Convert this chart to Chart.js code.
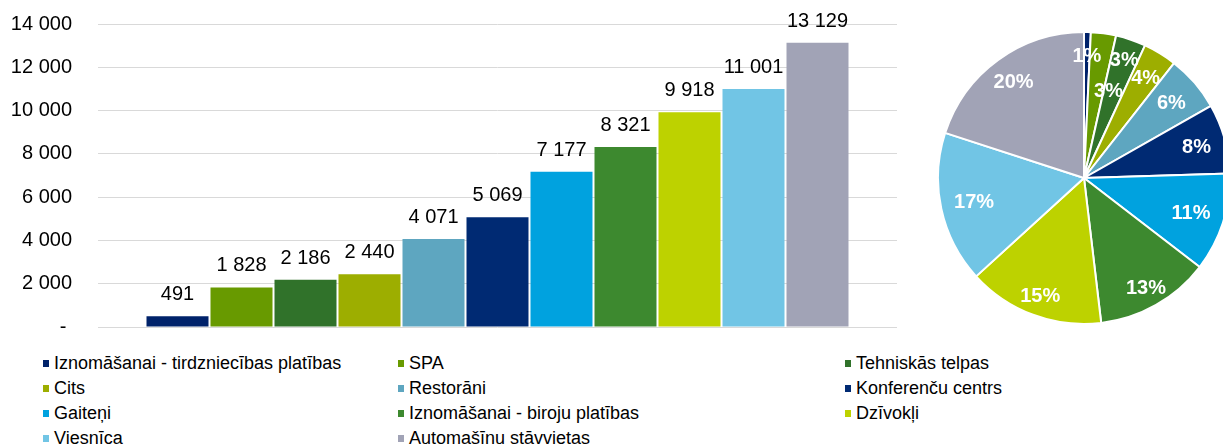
<!DOCTYPE html>
<html>
<head>
<meta charset="utf-8">
<script src="https://cdn.jsdelivr.net/npm/chart.js@4/dist/chart.umd.min.js"></script>
<style>
  html, body { margin: 0; padding: 0; background: #fff; width: 1223px; height: 447px; overflow: hidden; position: relative; font-family: "Liberation Sans", Arial, sans-serif; }
  #bar { position: absolute; left: 0; top: 0; }
  #pie { position: absolute; left: 934px; top: 28px; }
  #legend { position: absolute; left: 0; top: 351px; width: 1223px; display: grid; grid-template-columns: 355px 447px 378px; padding-left: 43px; box-sizing: border-box; }
  .item { display: flex; align-items: center; height: 25px; font-size: 18px; color: #000; white-space: nowrap; }
  .sw { width: 6px; height: 7px; margin-right: 5px; flex: none; }
</style>
</head>
<body>
<canvas id="bar" width="905" height="340"></canvas>
<canvas id="pie" width="300" height="300"></canvas>
<div id="legend"></div>
<script>
const categories = [
  "Iznomāšanai - tirdzniecības platības",
  "SPA",
  "Tehniskās telpas",
  "Cits",
  "Restorāni",
  "Konferenču centrs",
  "Gaiteņi",
  "Iznomāšanai - biroju platības",
  "Dzīvokļi",
  "Viesnīca",
  "Automašīnu stāvvietas"
];
const areaValues = [491, 1828, 2186, 2440, 4071, 5069, 7177, 8321, 9918, 11001, 13129];
const yTicks = [0, 2000, 4000, 6000, 8000, 10000, 12000, 14000];
const colors = ["#00226A", "#689A00", "#30722A", "#9DAE00", "#5EA6C0", "#002A73", "#00A2DF", "#3D892F", "#BDD200", "#71C5E5", "#A1A3B6"];

const FONT = "'Liberation Sans', Arial, sans-serif";
const fmt = v => String(Math.round(v)).replace(/\B(?=(\d{3})+(?!\d))/g, " ");

const barLabels = {
  id: "barLabels",
  afterDatasetsDraw(chart) {
    const ctx = chart.ctx;
    ctx.save();
    ctx.font = "20px " + FONT;
    ctx.fillStyle = "#000";
    ctx.textAlign = "center";
    ctx.textBaseline = "alphabetic";
    chart.data.datasets.forEach((ds, i) => {
      const meta = chart.getDatasetMeta(i);
      meta.data.forEach((el, j) => {
        ctx.fillText(fmt(ds.data[j]), el.x, el.y - 16);
      });
    });
    ctx.restore();
  }
};

new Chart(document.getElementById("bar"), {
  type: "bar",
  data: {
    labels: [""],
    datasets: categories.map((c, i) => ({
      label: c,
      data: [areaValues[i]],
      backgroundColor: colors[i],
      borderWidth: 0,
      categoryPercentage: 0.8811,
      barPercentage: 0.96875
    }))
  },
  options: {
    responsive: false,
    animation: false,
    layout: { padding: { top: 24, bottom: 13, left: 0, right: 8 } },
    plugins: { legend: { display: false }, tooltip: { enabled: false } },
    scales: {
      x: { display: false },
      y: {
        min: yTicks[0],
        max: yTicks[yTicks.length - 1],
        afterBuildTicks: s => { s.ticks = yTicks.map(v => ({ value: v })); },
        afterFit: s => { s.width = 98; s.paddingTop = 0; s.paddingBottom = 0; },
        border: { display: false },
        grid: { color: "#D9D9D9", lineWidth: 1, drawTicks: false },
        ticks: {
          padding: 26,
          color: "#000",
          font: { size: 20, family: FONT },
          callback: v => v === 0 ? "- " : fmt(v)
        }
      }
    }
  },
  plugins: [barLabels]
});

const total = areaValues.reduce((a, b) => a + b, 0);
const labelRadius = [0.84, 0.62, 0.86, 0.81, 0.79, 0.80, 0.77, 0.86, 0.86, 0.77, 0.82];
const labelAngleShift = [0, 8, 0, 0, 0, 0, 0, 0, 0, 0, 0];

const pieLabels = {
  id: "pieLabels",
  afterDatasetsDraw(chart) {
    const ctx = chart.ctx;
    const meta = chart.getDatasetMeta(0);
    ctx.save();
    ctx.font = "bold 20px " + FONT;
    ctx.fillStyle = "#fff";
    ctx.textAlign = "center";
    ctx.textBaseline = "middle";
    meta.data.forEach((arc, i) => {
      const p = arc.getProps(["x", "y", "startAngle", "endAngle", "outerRadius"], true);
      const mid = (p.startAngle + p.endAngle) / 2 + labelAngleShift[i] * Math.PI / 180;
      const r = p.outerRadius * labelRadius[i];
      const pct = Math.round(areaValues[i] / total * 100) + "%";
      ctx.fillText(pct, p.x + Math.cos(mid) * r, p.y + Math.sin(mid) * r + 1);
    });
    ctx.restore();
  }
};

new Chart(document.getElementById("pie"), {
  type: "pie",
  data: {
    labels: categories,
    datasets: [{ data: areaValues, backgroundColor: colors, borderColor: "#fff", borderWidth: 2 }]
  },
  options: {
    responsive: false,
    animation: false,
    layout: { padding: 3 },
    plugins: { legend: { display: false }, tooltip: { enabled: false } }
  },
  plugins: [pieLabels]
});

const legend = document.getElementById("legend");
categories.forEach((c, i) => {
  const d = document.createElement("div");
  d.className = "item";
  const s = document.createElement("span");
  s.className = "sw";
  s.style.background = colors[i];
  d.appendChild(s);
  d.appendChild(document.createTextNode(c));
  legend.appendChild(d);
});
</script>
</body>
</html>
